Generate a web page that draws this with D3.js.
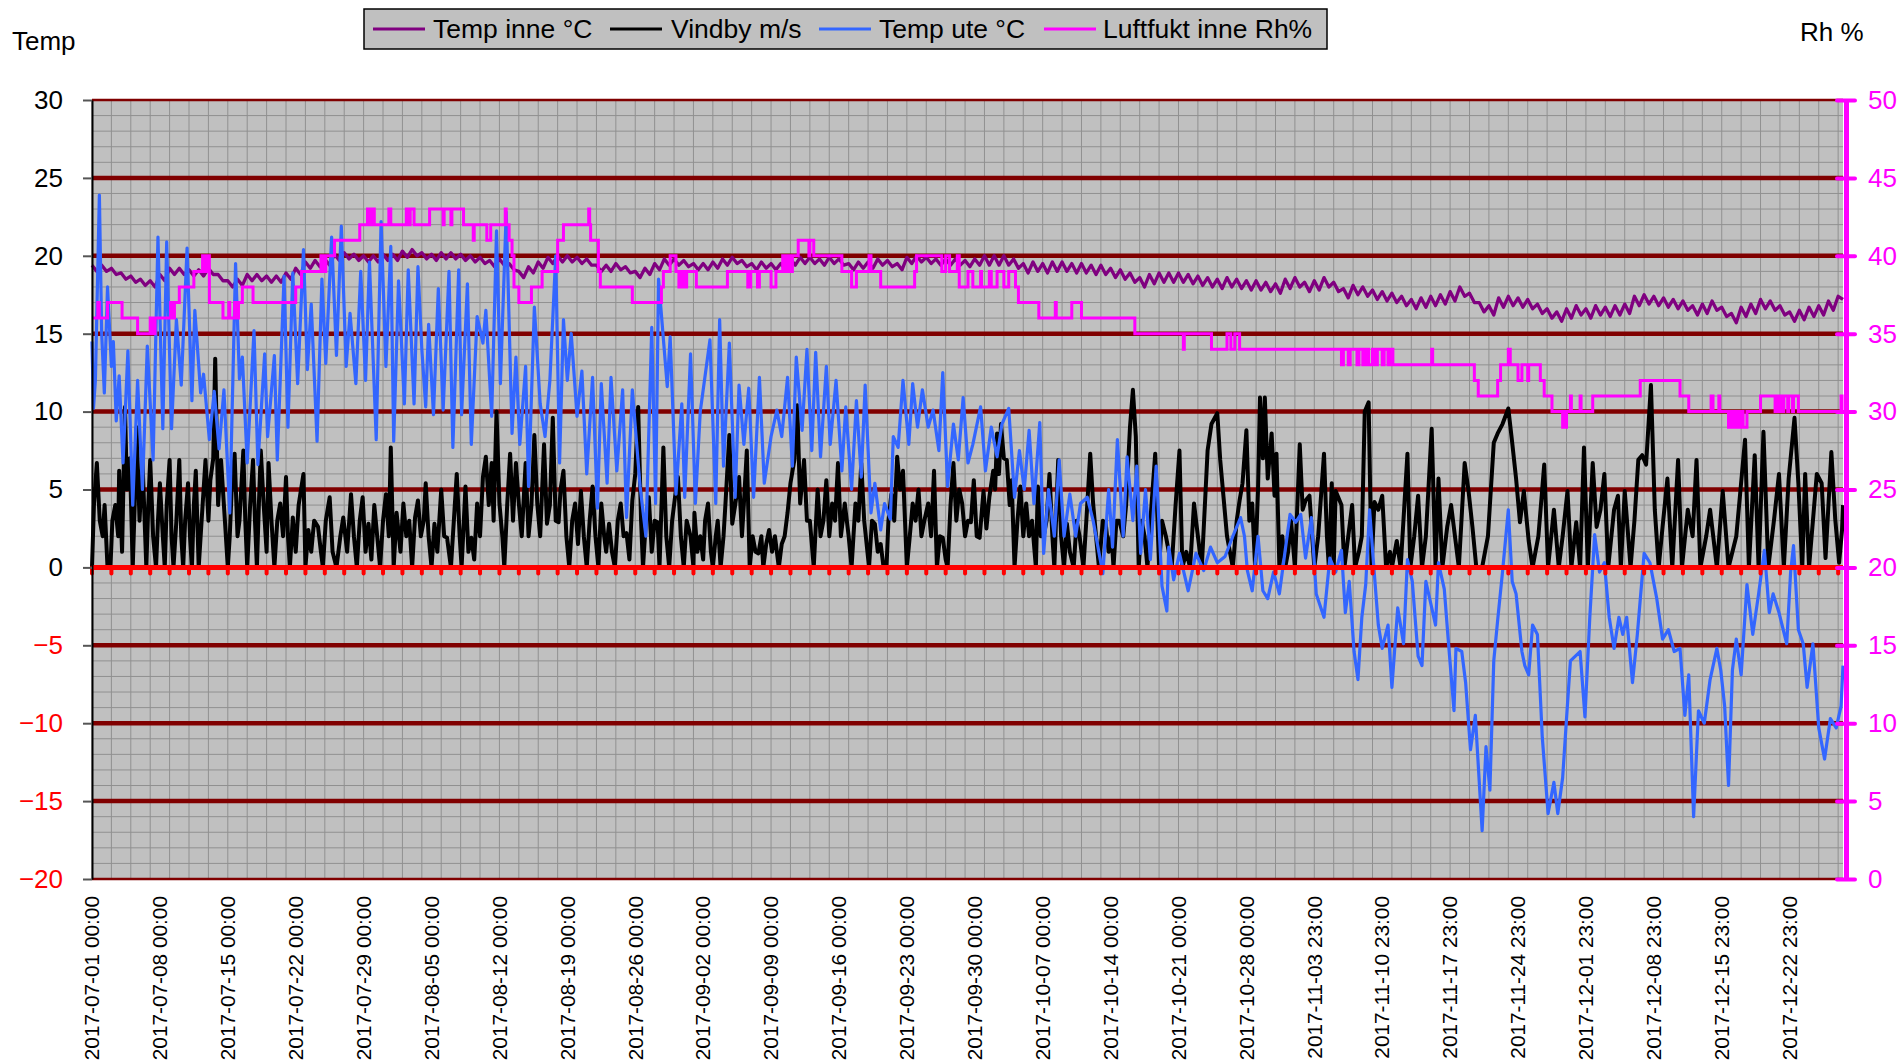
<!DOCTYPE html>
<html lang="no">
<head>
<meta charset="UTF-8">
<title>Temp inne / Vindby / Temp ute / Luftfukt 2017</title>
<script src="https://d3js.org/d3.v7.min.js"></script>
<style>
  body { margin: 0; background: #fff; }
  svg { display: block; font-family: "Liberation Sans", Arial, sans-serif; }
</style>
</head>
<body>
<div id="chart"></div>
<script>
// x = day number counted from 2017-07-01 00:00 (hourly logger, one label per 168 readings)
const xLabels = [
  "2017-07-01 00:00","2017-07-08 00:00","2017-07-15 00:00","2017-07-22 00:00","2017-07-29 00:00",
  "2017-08-05 00:00","2017-08-12 00:00","2017-08-19 00:00","2017-08-26 00:00","2017-09-02 00:00",
  "2017-09-09 00:00","2017-09-16 00:00","2017-09-23 00:00","2017-09-30 00:00","2017-10-07 00:00",
  "2017-10-14 00:00","2017-10-21 00:00","2017-10-28 00:00","2017-11-03 23:00","2017-11-10 23:00",
  "2017-11-17 23:00","2017-11-24 23:00","2017-12-01 23:00","2017-12-08 23:00","2017-12-15 23:00",
  "2017-12-22 23:00"
];
const tempTicks = [-20,-15,-10,-5,0,5,10,15,20,25,30];
const rhTicks = [0,5,10,15,20,25,30,35,40,45,50];
const lastDay = 180.5;

// Temp inne °C, two readings per day (day top, night bottom)
const inneJul = [19.4,19.0,19.4,19.0,19.2,18.8,18.9,18.5,18.7,18.3,18.5,18.1,18.4,18.0,18.8,18.4,19.2,18.8,19.2,18.8,
  19.1,18.7,19.1,18.7,19.2,18.8,18.8,18.4,18.4,18.0,18.5,18.1,18.8,18.4,18.8,18.4,18.7,18.3,18.7,18.3,
  18.9,18.5,19.2,18.8,19.6,19.2,19.7,19.3,19.8,19.4,20.1,19.7,20.2,19.8,20.1,19.7,20.0,19.6,20.0,19.6,20.1,19.7];
const inneAug = [20.1,19.7,20.3,19.9,20.4,20.0,20.2,19.8,20.1,19.7,20.2,19.8,20.2,19.8,20.1,19.7,20.0,19.6,19.9,19.5,
  19.7,19.3,19.8,19.4,19.5,19.1,19.0,18.6,19.3,18.9,19.6,19.2,19.9,19.5,20.0,19.6,20.0,19.6,19.9,19.5,
  19.8,19.4,19.4,19.0,19.4,19.0,19.5,19.1,19.3,18.9,19.0,18.6,19.2,18.8,19.5,19.1,19.8,19.4,19.8,19.4,19.7,19.3];
const inneSep = [19.5,19.1,19.5,19.1,19.6,19.2,19.8,19.4,19.9,19.5,19.7,19.3,19.5,19.1,19.6,19.2,19.5,19.1,19.5,19.1,
  19.8,19.4,19.9,19.5,19.9,19.5,19.8,19.4,19.9,19.5,19.8,19.4,19.5,19.1,19.6,19.2,19.6,19.2,19.8,19.4,
  19.7,19.3,19.5,19.1,19.9,19.5,20.0,19.6,19.9,19.5,19.8,19.4,19.8,19.4,19.8,19.4,19.7,19.3,19.8,19.4];
const inneOkt = [20.0,19.4,20.0,19.4,20.0,19.4,19.8,19.2,19.5,18.9,19.6,19.0,19.5,18.9,19.6,19.0,19.6,19.0,19.5,18.9,
  19.5,18.9,19.4,18.8,19.4,18.8,19.2,18.6,19.1,18.5,18.9,18.3,18.6,18.0,18.8,18.2,18.9,18.3,18.9,18.3,
  18.9,18.3,18.8,18.2,18.7,18.1,18.6,18.0,18.5,17.9,18.6,18.0,18.5,17.9,18.4,17.8,18.4,17.8,18.3,17.7,18.2,17.6];
const inneNov = [18.5,17.9,18.6,18.0,18.3,17.7,18.4,17.8,18.6,18.0,18.3,17.7,17.9,17.3,18.1,17.5,18.0,17.4,17.8,17.2,
  17.7,17.1,17.6,17.0,17.4,16.8,17.2,16.6,17.3,16.7,17.4,16.8,17.5,16.9,17.7,17.1,18.0,17.4,17.6,17.0,
  17.0,16.4,16.8,16.2,17.3,16.7,17.4,16.8,17.3,16.7,17.2,16.6,16.9,16.3,16.6,16.0,16.4,15.8,16.6,16.0];
const inneDes = [16.8,16.2,16.6,16.0,16.8,16.2,16.7,16.1,16.8,16.2,16.9,16.3,17.4,16.8,17.5,16.9,17.4,16.8,17.3,16.7,
  17.2,16.6,17.1,16.5,16.8,16.2,16.9,16.3,17.1,16.5,16.7,16.1,16.3,15.7,16.7,16.1,16.9,16.3,17.2,16.6,
  17.1,16.5,16.8,16.2,16.4,15.8,16.5,15.9,16.7,16.1,16.8,16.2,17.1,16.5,17.4,17.2];

// Vindby m/s, [day, value] read at peaks and lulls
const vindJul = [[0,0],[0.2,4],[0.5,6.7],[0.8,3],[1.1,2],[1.3,4],[1.6,0],[1.9,0],[2.1,3],[2.4,4],[2.7,2],[2.8,6.2],[3.1,1],
  [3.4,10.3],[3.6,5],[3.9,7],[4.2,0],[4.4,4],[4.6,9],[4.9,3],[5.2,6.9],[5.6,0],[5.8,4],[6.0,6.9],[6.3,2],[6.6,0],[6.8,3],
  [7.0,5.4],[7.3,2],[7.5,0],[7.7,4],[8.0,6.9],[8.2,2],[8.4,0],[8.7,3],[9.0,6.9],[9.2,2],[9.4,0],[9.6,3],[9.9,5.4],[10.1,2],
  [10.3,0],[10.5,4],[10.7,6.2],[11.0,0],[11.3,3],[11.7,6.9],[12.0,3],[12.2,5.6],[12.5,7],[12.7,13.4],[13.0,4],[13.3,6.9],
  [13.7,3],[14.0,0],[14.2,2],[14.4,5],[14.7,7.3],[15.0,2],[15.2,3],[15.6,7.5],[15.8,3],[16.0,0],[16.3,4],[16.6,6.9],[16.8,3],
  [17.0,0],[17.2,4],[17.4,7.5],[17.7,4],[18.0,1],[18.2,6.7],[18.5,3],[18.8,0],[19.1,3],[19.4,4.1],[19.7,2],[20.0,5.8],
  [20.2,2],[20.4,0],[20.7,3.2],[21.0,1],[21.3,4],[21.8,6],[22.0,0],[22.3,2.4],[22.6,1],[22.9,3],[23.3,2.6],[23.6,1],
  [23.8,0],[24.1,3],[24.5,4.5],[24.8,1],[25.2,0],[25.6,2],[25.9,3.2],[26.3,1],[26.7,4.7],[27.0,2],[27.3,0],[27.6,3],
  [27.9,4.5],[28.2,1],[28.5,2.8],[28.8,0.5],[29.1,4],[29.4,2],[29.7,0],[30.0,3],[30.3,4.7],[30.6,2],[30.8,7.7],[31.1,0]];
const vindAug = [[31.4,3.5],[31.8,1],[32.1,4.1],[32.4,2],[32.7,3],[33.0,0],[33.3,3.2],[33.6,4.3],[33.9,2],[34.2,3],[34.4,5.4],
  [34.7,2],[35.0,0],[35.3,2.8],[35.6,1],[36.0,5],[36.3,2],[36.6,1.9],[37.0,0],[37.3,3],[37.6,6],[37.9,2],[38.1,0],[38.5,5.2],
  [38.8,1],[39.1,1.9],[39.4,0.5],[39.7,4.1],[40.0,2],[40.3,5.8],[40.6,7.1],[40.9,4],[41.2,6.7],[41.4,3],[41.7,10],[42.0,4.1],
  [42.3,2],[42.5,0],[42.8,4],[43.1,7.3],[43.4,3],[43.7,6.7],[44.0,4.1],[44.3,2],[44.7,6.7],[45.0,2],[45.3,4],[45.6,8.5],
  [45.9,4.1],[46.2,2],[46.6,7.9],[46.9,2.8],[47.2,4],[47.5,9.6],[47.8,3],[48.1,2.9],[48.3,5],[48.6,6.2],[48.9,2],[49.2,0],
  [49.5,3],[49.8,4.1],[50.1,1.5],[50.4,4.9],[50.7,2],[51.0,0],[51.3,3],[51.6,5.2],[51.9,2],[52.2,0],[52.5,4.1],[52.8,2],
  [53.0,1],[53.3,2.8],[53.6,1],[53.9,0],[54.2,3],[54.5,4.1],[54.8,2],[55.1,2.2],[55.4,0.5],[55.7,4.3],[56.0,6],[56.3,10.3],
  [56.6,3],[56.8,0],[57.1,3],[57.4,4.5],[57.7,1],[58.0,3],[58.3,2.9],[58.5,0],[58.9,7.7],[59.2,2],[59.5,0],[59.8,3],
  [60.1,4.5],[60.4,5.8],[60.7,2],[61.0,0],[61.3,3],[61.7,2],[62.0,0]];
const vindSep = [[62.1,3.5],[62.4,1],[62.7,2],[63.0,0.5],[63.2,3],[63.5,4.1],[63.8,1],[64.0,0],[64.3,2],[64.5,3],[64.8,0],
  [65.1,2],[65.3,4.1],[65.7,8.5],[66.0,2.8],[66.3,4],[66.7,5.8],[67.0,2],[67.2,4.1],[67.5,7.5],[67.8,0],[68.1,2],[68.4,1],
  [68.7,0.9],[69.0,2],[69.2,0],[69.5,1.5],[69.8,2.4],[70.1,1],[70.4,2],[70.8,0],[71.1,1.5],[71.4,2],[71.7,3.5],[72.0,5.4],
  [72.4,6.9],[72.7,10.4],[73.0,4.1],[73.4,6.9],[73.7,3],[74.0,3],[74.4,0],[74.8,5],[75.1,2],[75.4,3],[75.7,5.6],[76.0,2],
  [76.3,4.1],[76.6,3],[76.9,6.7],[77.2,2],[77.6,4.1],[78.0,2],[78.3,0],[78.7,4.1],[79.0,3],[79.3,6.7],[79.6,3],[80.1,0],
  [80.4,3],[80.7,2.8],[81.0,1],[81.3,1.5],[81.6,0],[81.9,0],[82.1,3],[82.4,4.7],[82.7,3],[83.0,7.1],[83.3,5],[83.6,6.2],
  [84.0,0],[84.3,2],[84.6,4.1],[84.9,3],[85.2,5],[85.5,2],[85.8,3],[86.2,4.1],[86.5,2],[86.8,6.2],[87.1,0],[87.4,2],
  [87.7,1.9],[88.0,0.5],[88.2,0],[88.5,4],[88.8,6.7],[89.1,3],[89.4,5],[89.7,4.1],[90.0,2],[90.3,3],[90.6,2.9],[90.9,5.6],
  [91.2,2],[91.5,1.9],[91.9,4.9]];
const vindOkt = [[92.2,2.5],[92.5,4.5],[92.9,6.2],[93.1,5],[93.3,8.6],[93.5,6],[93.7,9.2],[94.0,7],[94.3,6.9],[94.6,4],
  [94.8,5.6],[95.1,0],[95.4,3],[95.7,5.2],[96.0,2],[96.3,4.1],[96.6,2],[96.9,3],[97.3,0],[97.5,5.2],[97.8,2],[98.1,2],
  [98.4,3],[98.7,6],[99.0,2],[99.2,0],[99.6,6.9],[99.9,2],[100.2,0],[100.5,2.8],[100.8,1],[101.2,0],[101.5,3],[101.8,2],
  [102.2,0],[102.5,3],[102.9,7.3],[103.2,4.1],[103.5,2],[103.8,0],[104.2,3],[104.5,2.8],[104.8,1],[105.1,2],[105.3,0],
  [105.6,3],[105.9,3],[106.3,2],[106.6,4],[107.0,9],[107.3,11.4],[107.6,8.4],[107.9,0],[108.2,3],[108.5,2],[108.8,0],
  [109.1,3],[109.6,7.3],[110.0,0],[110.3,3],[110.7,2],[111.0,1],[111.3,0],[111.7,4],[112.1,7.5],[112.4,0],[112.8,1],
  [113.2,0],[113.6,4.1],[114.0,2],[114.4,0],[115.0,7.5],[115.4,9.2],[116.0,9.9],[116.3,6.9],[116.7,4.1],[117.0,2],[117.3,1],
  [117.6,0],[118.0,3],[118.3,4.3],[118.6,5.4],[119.0,8.8],[119.3,3],[119.6,4.1],[119.9,0],[120.2,5],[120.4,10.9],[120.7,7],
  [120.9,10.9],[121.2,5.7],[121.6,8.6],[121.9,4.6],[122.1,7.3],[122.4,0],[122.7,2],[123.0,0],[123.3,1]];
const vindNov = [[123.6,3],[124.0,0],[124.5,7.9],[124.8,3.7],[125.1,4.3],[125.5,4.6],[126.0,0],[126.4,2],[127.0,7.3],[127.3,2],
  [127.5,0],[127.8,5.4],[128.0,0],[128.2,4.9],[128.8,4],[129.1,0],[129.5,2],[129.9,4],[130.2,0],[130.6,1],[130.9,2],
  [131.2,10],[131.6,10.6],[131.9,0],[132.2,4.2],[132.6,3.7],[133.0,4.6],[133.4,0],[133.8,1],[134.0,0],[134.5,1.7],[134.9,0],
  [135.6,7.3],[135.9,0],[136.3,2],[136.7,4.6],[137.1,0],[137.5,2],[138.1,8.9],[138.5,0],[138.8,5.7],[139.2,0],[139.7,2.6],
  [140.1,4],[140.5,2],[140.9,0],[141.5,6.7],[141.9,4.9],[142.3,2.6],[142.7,0],[143.3,0],[143.9,2],[144.5,8],[144.9,8.6],
  [145.4,9.2],[146.0,10.2],[146.4,8],[146.8,5.7],[147.2,2.9],[147.6,4.9],[148.1,1.7],[148.5,0],[149.1,2],[149.7,6.6],
  [150.1,0],[150.7,3.7],[151.2,0],[151.6,2],[152.1,4.9],[152.5,0],[153.0,2.9]];
const vindDes = [[153.4,0],[153.8,7.7],[154.2,0],[154.7,6.7],[155.1,2.6],[155.5,3.7],[155.9,6],[156.3,0],[156.9,3.7],[157.3,4.6],
  [157.6,0],[158.0,4.9],[158.6,0],[159.0,3],[159.4,6.9],[159.8,7.2],[160.2,6.6],[160.7,11.7],[161.1,3.7],[161.5,0],
  [161.9,2.6],[162.4,5.7],[162.9,0],[163.5,6.9],[163.9,0],[164.5,3.7],[165.0,2],[165.4,6.9],[165.8,0],[166.4,2],[166.8,3.7],
  [167.5,0],[168.1,4.9],[168.7,0],[169.5,2],[170.4,8.2],[170.8,0],[171.4,7.2],[171.8,0],[172.3,8.7],[172.8,0],[173.4,3.1],
  [173.9,6],[174.4,0],[174.9,5.7],[175.5,9.6],[175.9,5.4],[176.3,0],[176.6,6],[177.0,0],[177.8,6],[178.3,5.4],[178.7,0.6],
  [179.3,7.4],[179.7,3.1],[180.1,0.3],[180.4,2.4],[180.5,4]];

// Temp ute °C, [day, value] read at daily highs and lows
const uteJul = [[0,14.5],[0.15,10.2],[0.35,12],[0.76,23.9],[1.0,15],[1.27,11.2],[1.6,18],[2.0,12.9],[2.2,14.5],[2.5,9.4],
  [2.8,12.3],[3.2,6.7],[3.7,13.9],[4.2,4.0],[4.7,12],[5.2,5],[5.7,14.2],[6.3,6.9],[6.8,21.2],[7.3,8.9],[7.7,20.9],[8.2,8.9],
  [8.7,15.9],[9.2,11.7],[9.8,20.5],[10.3,10.7],[10.6,16.5],[11.2,11.2],[11.5,12.4],[12.1,8.2],[12.6,11.3],[13.1,7.6],
  [13.6,11.4],[14.2,3.5],[14.8,19.5],[15.2,12.1],[15.5,13.5],[16.0,6.7],[16.7,15.2],[17.1,6.6],[17.8,13.7],[18.1,8.4],
  [18.8,13.6],[19.1,6.9],[19.8,18.7],[20.2,9.0],[20.7,18.9],[21.2,11.8],[21.8,20.4],[22.2,12.7],[22.6,16.9],[23.2,8.1],
  [23.7,18.5],[24.1,13.1],[24.7,21.2],[25.2,13.6],[25.7,21.9],[26.2,12.9],[26.6,16.3],[27.2,11.8],[27.7,19.0],[28.2,12.0],
  [28.6,19.6],[29.3,8.2],[29.8,22.2],[30.3,12.9],[30.8,20.6]];
const uteAug = [[31.1,8.1],[31.6,18.4],[32.2,10.5],[32.6,19.1],[33.2,10.5],[33.6,19.3],[34.0,14],[34.4,10.3],[34.7,15.6],
  [35.2,9.8],[35.7,17.9],[36.2,10.1],[36.8,19.0],[37.2,7.7],[37.8,19.1],[38.1,9.8],[38.7,18.2],[39.1,7.9],[39.7,16.1],
  [40.3,14.4],[40.6,16.5],[41.2,9.7],[41.7,21.6],[42.1,11.8],[42.7,22.8],[43.3,8.6],[43.7,13.5],[44.1,7.9],[44.7,12.9],
  [45.0,5.2],[45.6,16.7],[46.2,10.5],[46.7,8.4],[47.2,12],[47.8,20],[48.2,6.7],[48.6,15.9],[49.0,12],[49.4,15],[50.0,9.7],
  [50.5,12.6],[51.0,6],[51.6,12.2],[52.1,3.8],[52.5,11.8],[53.1,5.4],[53.5,12.2],[54.1,6.2],[54.7,11.4],[55.1,3.2],
  [55.7,11.4],[56.5,5.2],[57.1,2.0],[57.7,15.4],[58.1,4.1],[58.4,18.5],[59.3,11.6],[59.6,14.8],[60.2,4.7],[60.8,10.5]];
const uteSep = [[61.1,4.5],[61.7,13.7],[62.2,4.1],[62.7,10],[63.7,14.6],[64.3,4.1],[64.7,15.9],[65.1,6.5],[65.7,14.4],
  [66.3,4.5],[66.7,11.7],[67.2,7.9],[67.7,11.5],[68.2,4.5],[68.8,12.2],[69.3,5.4],[70.0,8.4],[70.6,10.1],[71.1,8.4],
  [71.7,12.2],[72.2,6.5],[72.6,13.5],[73.2,8.8],[73.7,14],[74.2,7.5],[74.6,13.8],[75.1,7.1],[75.7,12.9],[76.1,7.9],
  [76.7,12],[77.3,6.2],[77.7,10.3],[78.3,5.0],[78.8,10.7],[79.3,5.8],[79.7,11.7],[80.3,3.5],[80.7,5.4],[81.3,2.4],
  [81.7,4.1],[82.3,3.1],[82.6,8.4],[83.1,7.7],[83.6,12],[84.2,7.9],[84.6,11.8],[85.1,9],[85.6,11.4],[86.2,9],[86.7,10.1],
  [87.3,7.5],[87.7,12.5],[88.2,5.2],[88.8,9.2],[89.3,6.9],[89.8,10.9],[90.3,6.7],[90.8,7.9],[91.6,10.3]];
const uteOkt = [[92.1,6.2],[92.7,9],[93.3,7.1],[93.8,9.2],[94.5,10.2],[95.1,4.5],[95.6,7.5],[96.1,5],[96.6,8.8],[97.1,4.1],
  [97.7,9.3],[98.1,0.9],[98.6,5],[99.2,2.0],[99.7,6.9],[100.2,2],[100.8,4.7],[101.4,2],[101.9,4.1],[102.6,4.5],[103.2,3],
  [104.2,-0.4],[104.8,5],[105.2,1.3],[105.7,8.2],[106.3,2],[106.7,7.1],[107.3,3],[107.7,6.5],[108.1,0.9],[108.6,5],
  [109.1,0.5],[109.7,6.5],[110.3,-1.2],[110.8,-2.8],[111.0,1.3],[111.5,-0.8],[112.1,0.9],[113.0,-1.5],[113.8,0.9],
  [114.6,-0.2],[115.3,1.3],[116.0,0.3],[116.8,0.7],[117.6,2],[118.4,3.2],[118.8,2],[119.1,-0.2],[119.6,-1.5],[120.2,2],
  [120.7,-1.5],[121.2,-2],[121.8,-0.3],[122.4,-1.7],[123.0,1.1]];
const uteNov = [[123.5,3.4],[124.1,2.9],[124.6,3.4],[125.1,0.6],[125.7,3.2],[126.2,-1.7],[127.0,-3.2],[127.6,0.6],[128.2,-0.3],
  [128.8,1.1],[129.2,-2.9],[129.6,-0.9],[130.1,-5.4],[130.5,-7.2],[130.9,-3.2],[131.3,-1.1],[131.7,3.7],[132.1,0.3],
  [132.6,-3.7],[133.0,-5.2],[133.6,-3.7],[134.0,-7.7],[134.6,-2.6],[135.2,-4.9],[135.6,0.5],[136.1,-0.9],[136.7,-5.7],
  [137.1,-6.3],[137.5,-0.9],[138.0,-2.3],[138.5,-3.7],[138.8,0.3],[139.4,-1.4],[139.8,-4.6],[140.4,-9.2],[140.6,-5.2],
  [141.2,-5.4],[141.6,-7.4],[142.1,-11.7],[142.6,-9.5],[143.3,-16.9],[143.7,-11.5],[144.1,-14.3],[144.5,-6],[144.9,-3.4],
  [145.4,-0.3],[146.0,3.7],[146.4,-0.9],[146.8,-1.7],[147.4,-5.4],[147.7,-6.3],[148.1,-6.9],[148.5,-3.7],[149.0,-4.3],
  [149.5,-10.9],[150.1,-15.8],[150.7,-13.8],[151.1,-15.8],[151.6,-13.5],[152.0,-9.7],[152.4,-6],[153.4,-5.4]];
const uteDes = [[153.9,-9.6],[154.4,-3.2],[154.9,2.1],[155.4,-0.3],[155.9,0.3],[156.4,-3.2],[156.9,-5.2],[157.4,-3.2],
  [157.8,-4.3],[158.2,-3.2],[158.8,-7.4],[159.3,-4.3],[160.0,0.9],[160.6,0.3],[161.3,-2],[161.9,-4.6],[162.5,-4],[163.1,-5.4],
  [163.7,-5.2],[164.2,-9.5],[164.6,-6.9],[165.1,-16],[165.6,-9.2],[166.2,-10],[166.8,-7.2],[167.5,-5.2],[167.9,-6.6],
  [168.3,-8.9],[168.7,-14],[169.1,-6.6],[169.5,-4.6],[170.0,-6.9],[170.6,-1.1],[171.2,-4.3],[171.8,-1.7],[172.4,1.1],
  [172.9,-2.9],[173.3,-1.7],[173.9,-2.9],[174.7,-4.9],[175.1,-0.3],[175.4,1.4],[175.9,-4],[176.4,-4.9],[176.8,-7.7],
  [177.4,-4.9],[178.0,-10.3],[178.6,-12.3],[179.2,-9.7],[179.8,-10.3],[180.3,-8.9],[180.5,-6.3]];

// Luftfukt inne Rh%, [day, value] at every step change
const rhSteps = [[0,36],[0.6,37],[0.75,36],[1.6,37],[3.1,36],[4.7,35],[6.0,36],[6.2,35],[6.5,36],[8.1,37],[8.3,36],[8.5,37],
  [9.0,38],[10.5,39],[11.4,40],[11.6,39],[11.8,40],[12.1,37],[13.5,36],[14.1,37],[14.2,36],[14.7,37],[14.9,36],[15.1,37],
  [15.5,38],[16.6,37],[21.0,38],[21.6,39],[23.6,40],[23.9,39],[24.1,40],[25.0,41],[27.6,42],[28.4,43],[28.7,42],[28.8,43],
  [29.1,42],[30.6,43],[30.8,42],[32.4,43],[32.5,42],[32.8,43],[33.2,42],[34.8,43],[36.2,42],[36.3,43],[37.0,42],[37.1,43],
  [38.3,42],[39.3,41],[39.4,42],[40.7,41],[41.1,42],[42.6,43],[42.7,42],[43.0,41],[43.3,40],[43.5,38],[44.0,37],[45.3,38],
  [46.4,39],[48.0,41],[48.6,42],[51.2,43],[51.3,42],[51.4,41],[52.2,39],[52.4,38],[55.7,37],[58.7,38],[58.9,39],[59.6,40],
  [60.2,39],[60.5,38],[60.7,39],[61.0,38],[61.3,39],[62.3,38],[65.5,39],[67.6,38],[67.9,39],[68.6,38],[68.8,39],[70.0,38],
  [70.5,39],[71.2,40],[71.5,39],[71.8,40],[72.1,39],[72.2,40],[72.8,41],[73.9,40],[74.0,41],[74.4,40],[77.3,39],[78.3,38],
  [78.8,39],[80.1,40],[80.3,39],[81.3,38],[84.8,39],[85.0,40],[87.6,39],[88.0,40],[88.4,39],[89.2,40],[89.4,38],[90.3,39],
  [90.8,38],[91.6,39],[91.7,38],[92.5,39],[92.7,38],[93.3,39],[94.0,38],[94.5,39],[95.2,38],[95.5,37],[97.6,36],[99.3,37],
  [99.4,36],[101.0,37],[102.0,36],[107.5,35],[112.5,34],[112.6,35],[115.4,34],[117.0,35],[117.4,34],[117.8,35],[118.3,34],
  [128.8,33],[129.0,34],[129.5,33],[129.7,34],[130.4,33],[130.6,34],[131.0,33],[131.3,34],[131.6,33],[132.0,34],[132.3,33],
  [132.5,34],[133.0,33],[133.2,34],[133.6,33],[133.8,34],[134.1,33],[138.1,34],[138.2,33],[142.5,32],[142.9,31],[144.9,32],
  [145.2,33],[146.0,34],[146.2,33],[147.0,32],[147.4,33],[148.0,32],[148.1,33],[149.3,32],[149.7,31],[150.5,30],[151.6,29],
  [151.7,30],[151.9,29],[152.0,30],[152.4,31],[152.5,30],[153.4,31],[153.5,30],[154.7,31],[159.6,32],[163.7,31],[164.6,30],
  [166.9,31],[167.1,30],[167.7,31],[167.8,30],[168.7,29],[169.0,30],[169.2,29],[169.5,30],[169.8,29],[170.0,30],[170.2,29],
  [170.6,30],[172.0,31],[173.5,30],[173.6,31],[173.9,30],[174.0,31],[174.3,30],[174.4,31],[174.8,30],[174.9,31],[175.3,30],
  [175.4,31],[175.9,30],[180.3,31],[180.4,30],[180.5,30]];

const inne = [].concat(inneJul, inneAug, inneSep, inneOkt, inneNov, inneDes).map((v, i) => [i * 0.5, v]);
const vind = [].concat(vindJul, vindAug, vindSep, vindOkt, vindNov, vindDes);
const ute = [].concat(uteJul, uteAug, uteSep, uteOkt, uteNov, uteDes);

const W = 1903, H = 1063;
const pL = 92, pR = 1843, pT = 100, pB = 879;

const x = d3.scaleLinear().domain([0, lastDay]).range([pL, pR]);
const y = d3.scaleLinear().domain([-20, 30]).range([pB, pT]);
const yRh = d3.scaleLinear().domain([0, 50]).range([pB, pT]);

const svg = d3.select("#chart").append("svg").attr("width", W).attr("height", H);
svg.append("rect").attr("width", W).attr("height", H).attr("fill", "#fff");

// plot area
svg.append("rect")
  .attr("x", pL).attr("y", pT)
  .attr("width", pR - pL).attr("height", pB - pT)
  .attr("fill", "#c0c0c0");

const grid = svg.append("g");
grid.selectAll("line.hmin").data(d3.range(-20, 31)).join("line")
  .attr("class", "hmin")
  .attr("x1", pL).attr("x2", pR)
  .attr("y1", d => y(d)).attr("y2", d => y(d))
  .attr("stroke", "#909090").attr("stroke-width", 1);
grid.selectAll("line.vmin").data(d3.range(0, lastDay, 2)).join("line")
  .attr("class", "vmin")
  .attr("x1", d => x(d)).attr("x2", d => x(d))
  .attr("y1", pT).attr("y2", pB)
  .attr("stroke", "#909090").attr("stroke-width", 1);
grid.selectAll("line.hmaj").data(tempTicks.filter(d => d !== 0)).join("line")
  .attr("class", "hmaj")
  .attr("x1", pL).attr("x2", pR)
  .attr("y1", d => y(d)).attr("y2", d => y(d))
  .attr("stroke", "#800000")
  .attr("stroke-width", d => (d === 30 || d === -20) ? 2.5 : 4.5);

// series, in Excel order
const line = d3.line().x(d => x(d[0])).y(d => y(d[1]));
const plot = svg.append("g");
plot.append("path").datum(inne).attr("d", line)
  .attr("fill", "none").attr("stroke", "#800080").attr("stroke-width", 3.3).attr("stroke-linejoin", "round");
plot.append("path").datum(vind).attr("d", line)
  .attr("fill", "none").attr("stroke", "#000").attr("stroke-width", 4).attr("stroke-linejoin", "round");
plot.append("path").datum(ute).attr("d", line)
  .attr("fill", "none").attr("stroke", "#3366ff").attr("stroke-width", 3.2).attr("stroke-linejoin", "round");

// x axis crosses at 0, drawn red with ticks every 48 readings
const xAxis = svg.append("g");
xAxis.append("line")
  .attr("x1", pL).attr("x2", pR).attr("y1", y(0)).attr("y2", y(0))
  .attr("stroke", "#ff0000").attr("stroke-width", 5);
xAxis.selectAll("line.tick").data(d3.range(0, lastDay, 2)).join("line")
  .attr("class", "tick")
  .attr("x1", d => x(d)).attr("x2", d => x(d))
  .attr("y1", y(0)).attr("y2", y(0) + 6)
  .attr("stroke", "#ff0000").attr("stroke-width", 4).attr("stroke-linecap", "round");

const rhLine = d3.line().curve(d3.curveStepAfter).x(d => x(d[0])).y(d => yRh(d[1]));
plot.append("path").datum(rhSteps).attr("d", rhLine)
  .attr("fill", "none").attr("stroke", "#ff00ff").attr("stroke-width", 3);

// left axis
const yAxis = svg.append("g").attr("transform", `translate(${pL},0)`)
  .call(d3.axisLeft(y).tickValues(tempTicks).tickSize(9).tickSizeOuter(0).tickPadding(20).tickFormat(d3.format("d")));
yAxis.select(".domain").attr("stroke", "#000").attr("stroke-width", 2);
yAxis.selectAll(".tick line").attr("stroke", "#555").attr("stroke-width", 2);
yAxis.selectAll(".tick text")
  .attr("font-size", 26).attr("font-family", "Liberation Sans, Arial, sans-serif")
  .attr("fill", d => d < 0 ? "#ff0000" : "#000");

// right axis (Rh %)
const rAxis = svg.append("g").attr("transform", "translate(1846,0)")
  .call(d3.axisRight(yRh).tickValues(rhTicks).tickSize(10).tickSizeOuter(0).tickPadding(12).tickFormat(d3.format("d")));
rAxis.select(".domain").attr("stroke", "#ff00ff").attr("stroke-width", 5);
rAxis.selectAll(".tick line").attr("x1", -9).attr("x2", 9)
  .attr("stroke", "#ff00ff").attr("stroke-width", 4).attr("stroke-linecap", "round");
rAxis.selectAll(".tick text")
  .attr("font-size", 26).attr("font-family", "Liberation Sans, Arial, sans-serif")
  .attr("fill", "#ff00ff");

// x labels, rotated
svg.append("g").selectAll("text").data(xLabels).join("text")
  .attr("transform", (d, i) => `translate(${x(i * 7)},896) rotate(-90)`)
  .attr("text-anchor", "end").attr("dy", "0.35em")
  .attr("font-size", 20.8).attr("fill", "#000")
  .text(d => d);

// axis titles
svg.append("text").attr("x", 12).attr("y", 50).attr("font-size", 26).text("Temp");
svg.append("text").attr("x", 1800).attr("y", 41).attr("font-size", 26).text("Rh %");

// legend
const legendItems = [
  {name: "Temp inne °C", color: "#800080", x0: 373, tx: 433},
  {name: "Vindby m/s", color: "#000", x0: 610, tx: 671},
  {name: "Temp ute °C", color: "#3366ff", x0: 819, tx: 879},
  {name: "Luftfukt inne Rh%", color: "#ff00ff", x0: 1044, tx: 1103}
];
const legend = svg.append("g");
legend.append("rect").attr("x", 364).attr("y", 9).attr("width", 963).attr("height", 40)
  .attr("fill", "#c0c0c0").attr("stroke", "#000").attr("stroke-width", 1.5);
legend.selectAll("line").data(legendItems).join("line")
  .attr("x1", d => d.x0).attr("x2", d => d.x0 + 52)
  .attr("y1", 29).attr("y2", 29)
  .attr("stroke", d => d.color).attr("stroke-width", 3);
legend.selectAll("text").data(legendItems).join("text")
  .attr("x", d => d.tx).attr("y", 29).attr("dy", "0.35em")
  .attr("font-size", 26.5).attr("fill", "#000")
  .text(d => d.name);
</script>
</body>
</html>
